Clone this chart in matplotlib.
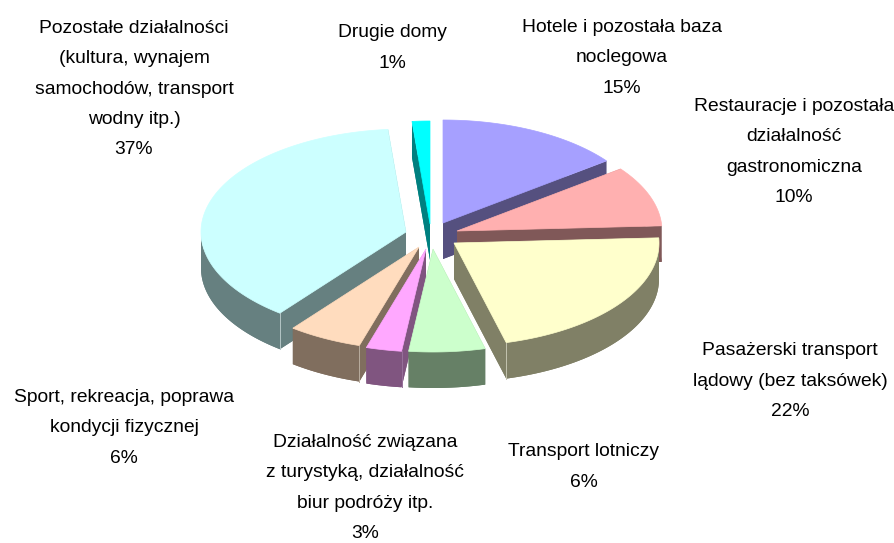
import numpy as np
import matplotlib
matplotlib.use("Agg")
import matplotlib.pyplot as plt
from matplotlib.patches import Polygon

plt.rcParams['font.family'] = ['Liberation Sans', 'DejaVu Sans']

# Category names and printed percentages
names = [
    "Hotele i pozostała baza\nnoclegowa",
    "Restauracje i pozostała\ndziałalność\ngastronomiczna",
    "Pasażerski transport\nlądowy (bez taksówek)",
    "Transport lotniczy",
    "Działalność związana\nz turystyką, działalność\nbiur podróży itp.",
    "Sport, rekreacja, poprawa\nkondycji fizycznej",
    "Pozostałe działalności\n(kultura, wynajem\nsamochodów, transport\nwodny itp.)",
    "Drugie domy",
]
printed_percent = [15, 10, 22, 6, 3, 6, 37, 1]
# Slice sizes as drawn in the picture (percent of the full circle)
drawn_share = [14.7, 9.5, 21.7, 6.0, 2.8, 5.85, 38.05, 1.4]

# Styles and layout, same order as the categories
top_colors = ["#A6A0FF", "#FFB0B0", "#FFFFCC", "#CCFFCC", "#FFA8FF", "#FFDCBE", "#CCFFFF", "#00FFFF"]
side_colors = ["#55507F", "#805858", "#808066", "#668066", "#805580", "#806E5E", "#668080", "#008080"]
seam_colors = ["#55507F", "#805858", "#C4C4B0", "#668066", "#97709A", "#B8AC9E", "#B4C6C6", "#008080"]
apex_xy = [(443, 223), (457, 231), (454, 243), (433, 249), (426, 249), (419, 247), (406, 232), (430, 224)]
label_xy = [(622, 58), (794, 152), (790, 381), (584, 467), (365, 488), (124, 428), (134, 89), (392, 48)]
draw_order = [7, 0, 1, 6, 5, 4, 2, 3]

RX, RY, DEPTH = 205, 103, 36

fig = plt.figure(figsize=(8.95, 5.43), dpi=100)
ax = fig.add_axes([0, 0, 1, 1])
ax.set_xlim(0, 895)
ax.set_ylim(543, 0)
ax.axis("off")

edges = np.concatenate([[0], np.cumsum(drawn_share)]) / np.sum(drawn_share) * 2 * np.pi


def rim(apex, a, b):
    t = np.linspace(a, b, 160)
    return np.column_stack([apex[0] + RX * np.sin(t), apex[1] - RY * np.cos(t)])


for i in draw_order:
    z = 2 * draw_order.index(i)
    a, b = edges[i], edges[i + 1]
    apex = np.array(apex_xy[i], float)
    arc = rim(apex, a, b)
    down = np.array([0, DEPTH])
    top = np.vstack([apex, arc])
    side = dict(closed=True, fc=side_colors[i], ec="none", lw=0, zorder=z)
    # extruded body: bottom face, front rim band and both radial walls
    ax.add_patch(Polygon(top + down, **side))
    fa, fb = max(a, np.pi / 2), min(b, 1.5 * np.pi)
    if fa < fb:
        front = rim(apex, fa, fb)
        ax.add_patch(Polygon(np.vstack([front, (front + down)[::-1]]), **side))
    for p in (arc[0], arc[-1]):
        ax.add_patch(Polygon(np.vstack([apex, p, p + down, apex + down]), **side))
    # pale seam where a radial wall meets the rim
    seam = None
    if np.pi / 2 < b < np.pi:
        seam = arc[-1]
    elif np.pi < a < 1.5 * np.pi:
        seam = arc[0]
    if seam is not None:
        ax.plot([seam[0]] * 2, [seam[1], seam[1] + DEPTH], color=seam_colors[i], lw=0.7, zorder=z + 0.5)
    ax.add_patch(Polygon(top, closed=True, fc=top_colors[i], ec=top_colors[i], lw=0.5, zorder=z + 1))

for name, pct, (x, y) in zip(names, printed_percent, label_xy):
    ax.text(x, y, f"{name}\n{pct}%", ha="center", va="center", ma="center",
            fontsize=13.9, linespacing=2.03, color="#000000", zorder=50)

fig.savefig("out.png", dpi=100, facecolor="white")
